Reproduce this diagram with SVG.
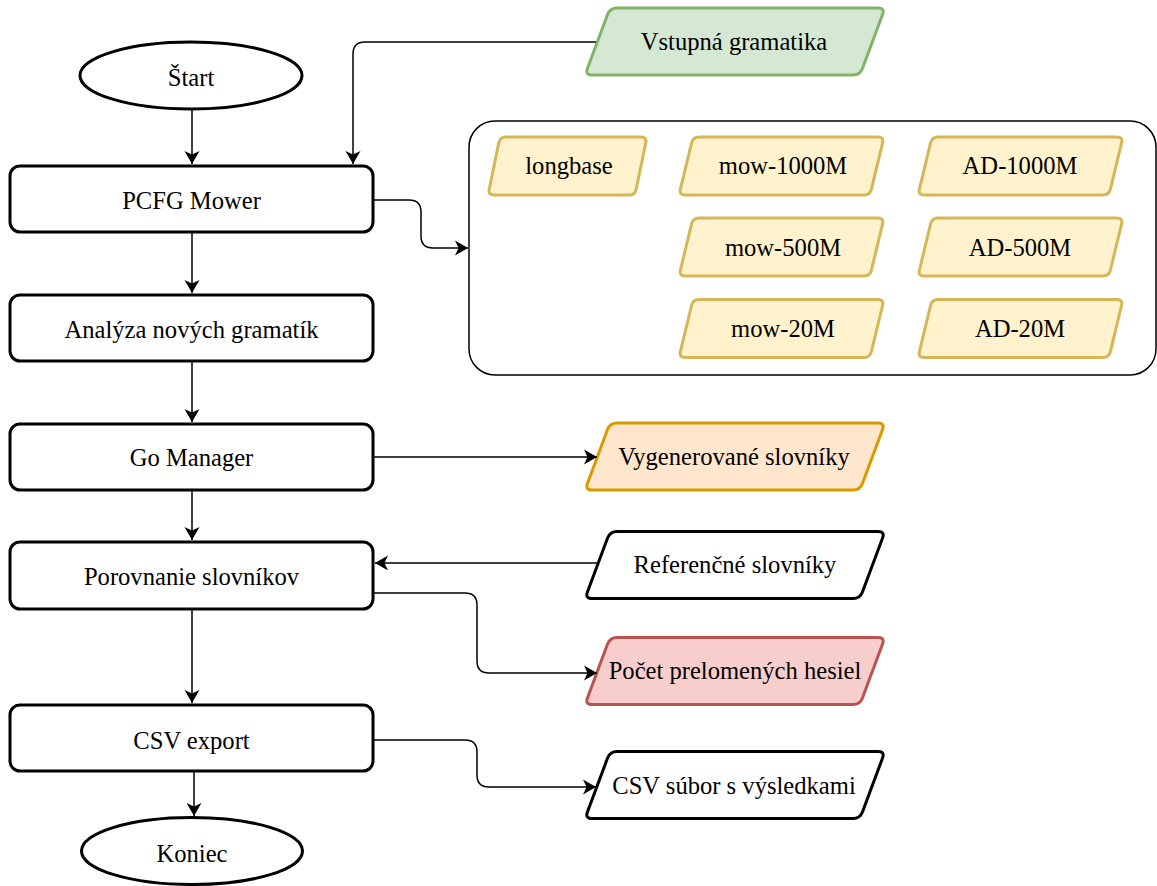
<svg xmlns="http://www.w3.org/2000/svg" xmlns:xlink="http://www.w3.org/1999/xlink" width="1157" height="886" viewBox="0 0 1157 886">
<style>
text{font-family:"Liberation Serif","Times New Roman",serif;font-size:24.6px;fill:#000;text-anchor:middle}
.node{fill:#fff;stroke:#000;stroke-width:3}
.grp{fill:#fff;stroke:#000;stroke-width:1.5}
.green{fill:#d5e8d4;stroke:#82b366;stroke-width:3}
.yellow{fill:#fff2cc;stroke:#d6b656;stroke-width:3}
.orange{fill:#ffe6cc;stroke:#d79b00;stroke-width:3}
.red{fill:#f8cecc;stroke:#b85450;stroke-width:3}
.plain{fill:#fff;stroke:#000;stroke-width:3}
.edge{fill:none;stroke:#000;stroke-width:1.5;marker-end:url(#arr)}
</style>
<defs>
<marker id="arr" markerWidth="16" markerHeight="18" viewBox="-15 -9 16 18" refX="0" refY="0" orient="auto" markerUnits="userSpaceOnUse">
<path d="M0,0 L-13,-7.5 L-9.5,0 L-13,7.5 Z" fill="#000"/>
</marker>
<path id="pL" d="M32,0 H293 Q300,0 297.55,6.56 L277.45,60.44 Q275,67 268,67 H7 Q0,67 2.45,60.44 L22.55,6.56 Q25,0 32,0 Z"/>
<path id="pS" d="M18,0 H153 Q159,0 157.78,5.88 L148.22,52.12 Q147,58 141,58 H6 Q0,58 1.22,52.12 L10.78,5.88 Q12,0 18,0 Z"/>
<path id="pM" d="M20,0 H199 Q205,0 203.59,5.83 L192.41,52.17 Q191,58 185,58 H6 Q0,58 1.41,52.17 L12.59,5.83 Q14,0 20,0 Z"/>
</defs>

<g id="group-box"><rect class="grp" x="469" y="121" width="687" height="254" rx="26" ry="26"/></g>

<g id="start"><ellipse class="node" cx="191" cy="75.5" rx="111" ry="33.5"/><text x="191" y="86">Štart</text></g>
<g id="pcfg"><rect class="node" x="10" y="166" width="363" height="66" rx="10"/><text x="191.5" y="209">PCFG Mower</text></g>
<g id="analyza"><rect class="node" x="10" y="295" width="363" height="66" rx="10"/><text x="191.5" y="338">Analýza nových gramatík</text></g>
<g id="gomanager"><rect class="node" x="10" y="424" width="363" height="66" rx="10"/><text x="191.5" y="466">Go Manager</text></g>
<g id="porovnanie"><rect class="node" x="10" y="542" width="363" height="67" rx="10"/><text x="191.5" y="585">Porovnanie slovníkov</text></g>
<g id="csvexport"><rect class="node" x="10" y="705" width="363" height="66" rx="10"/><text x="191.5" y="749">CSV export</text></g>
<g id="koniec"><ellipse class="node" cx="192" cy="851" rx="110.5" ry="33.5"/><text x="192" y="862">Koniec</text></g>

<g id="vstupna"><use xlink:href="#pL" class="green" x="585" y="8"/><text x="734" y="50">Vstupná gramatika</text></g>
<g id="longbase"><use xlink:href="#pS" class="yellow" x="488" y="137"/><text x="569" y="174">longbase</text></g>
<g id="mow1000"><use xlink:href="#pM" class="yellow" x="679" y="137"/><text x="783" y="174">mow-1000M</text></g>
<g id="ad1000"><use xlink:href="#pM" class="yellow" x="918" y="137"/><text x="1020" y="174">AD-1000M</text></g>
<g id="mow500"><use xlink:href="#pM" class="yellow" x="679" y="218"/><text x="783" y="256">mow-500M</text></g>
<g id="ad500"><use xlink:href="#pM" class="yellow" x="918" y="218"/><text x="1020" y="256">AD-500M</text></g>
<g id="mow20"><use xlink:href="#pM" class="yellow" x="679" y="299.5"/><text x="783" y="337">mow-20M</text></g>
<g id="ad20"><use xlink:href="#pM" class="yellow" x="918" y="299.5"/><text x="1020" y="337">AD-20M</text></g>
<g id="vygenerovane"><use xlink:href="#pL" class="orange" x="585" y="423"/><text x="734" y="465">Vygenerované slovníky</text></g>
<g id="referencne"><use xlink:href="#pL" class="plain" x="585" y="531.5"/><text x="735" y="573">Referenčné slovníky</text></g>
<g id="pocet"><use xlink:href="#pL" class="red" x="585" y="637.5"/><text x="735" y="679">Počet prelomených hesiel</text></g>
<g id="csvsubor"><use xlink:href="#pL" class="plain" x="585" y="751.5"/><text x="734" y="794">CSV súbor s výsledkami</text></g>

<g id="connectors">
<path class="edge" d="M192,109 V164"/>
<path class="edge" d="M596,42 H365 Q353,42 353,54 V164"/>
<path class="edge" d="M373,200 H409 Q421,200 421,212 V236 Q421,248 433,248 H468"/>
<path class="edge" d="M192,232 V293"/>
<path class="edge" d="M192,361 V422"/>
<path class="edge" d="M373,457 H597"/>
<path class="edge" d="M192,490 V540"/>
<path class="edge" d="M598,563 H375"/>
<path class="edge" d="M373,593 H465 Q477,593 477,605 V661 Q477,673 489,673 H597"/>
<path class="edge" d="M192,609 V703"/>
<path class="edge" d="M194,771 V816"/>
<path class="edge" d="M373,740 H465 Q477,740 477,752 V775 Q477,787 489,787 H596"/>
</g>
</svg>
